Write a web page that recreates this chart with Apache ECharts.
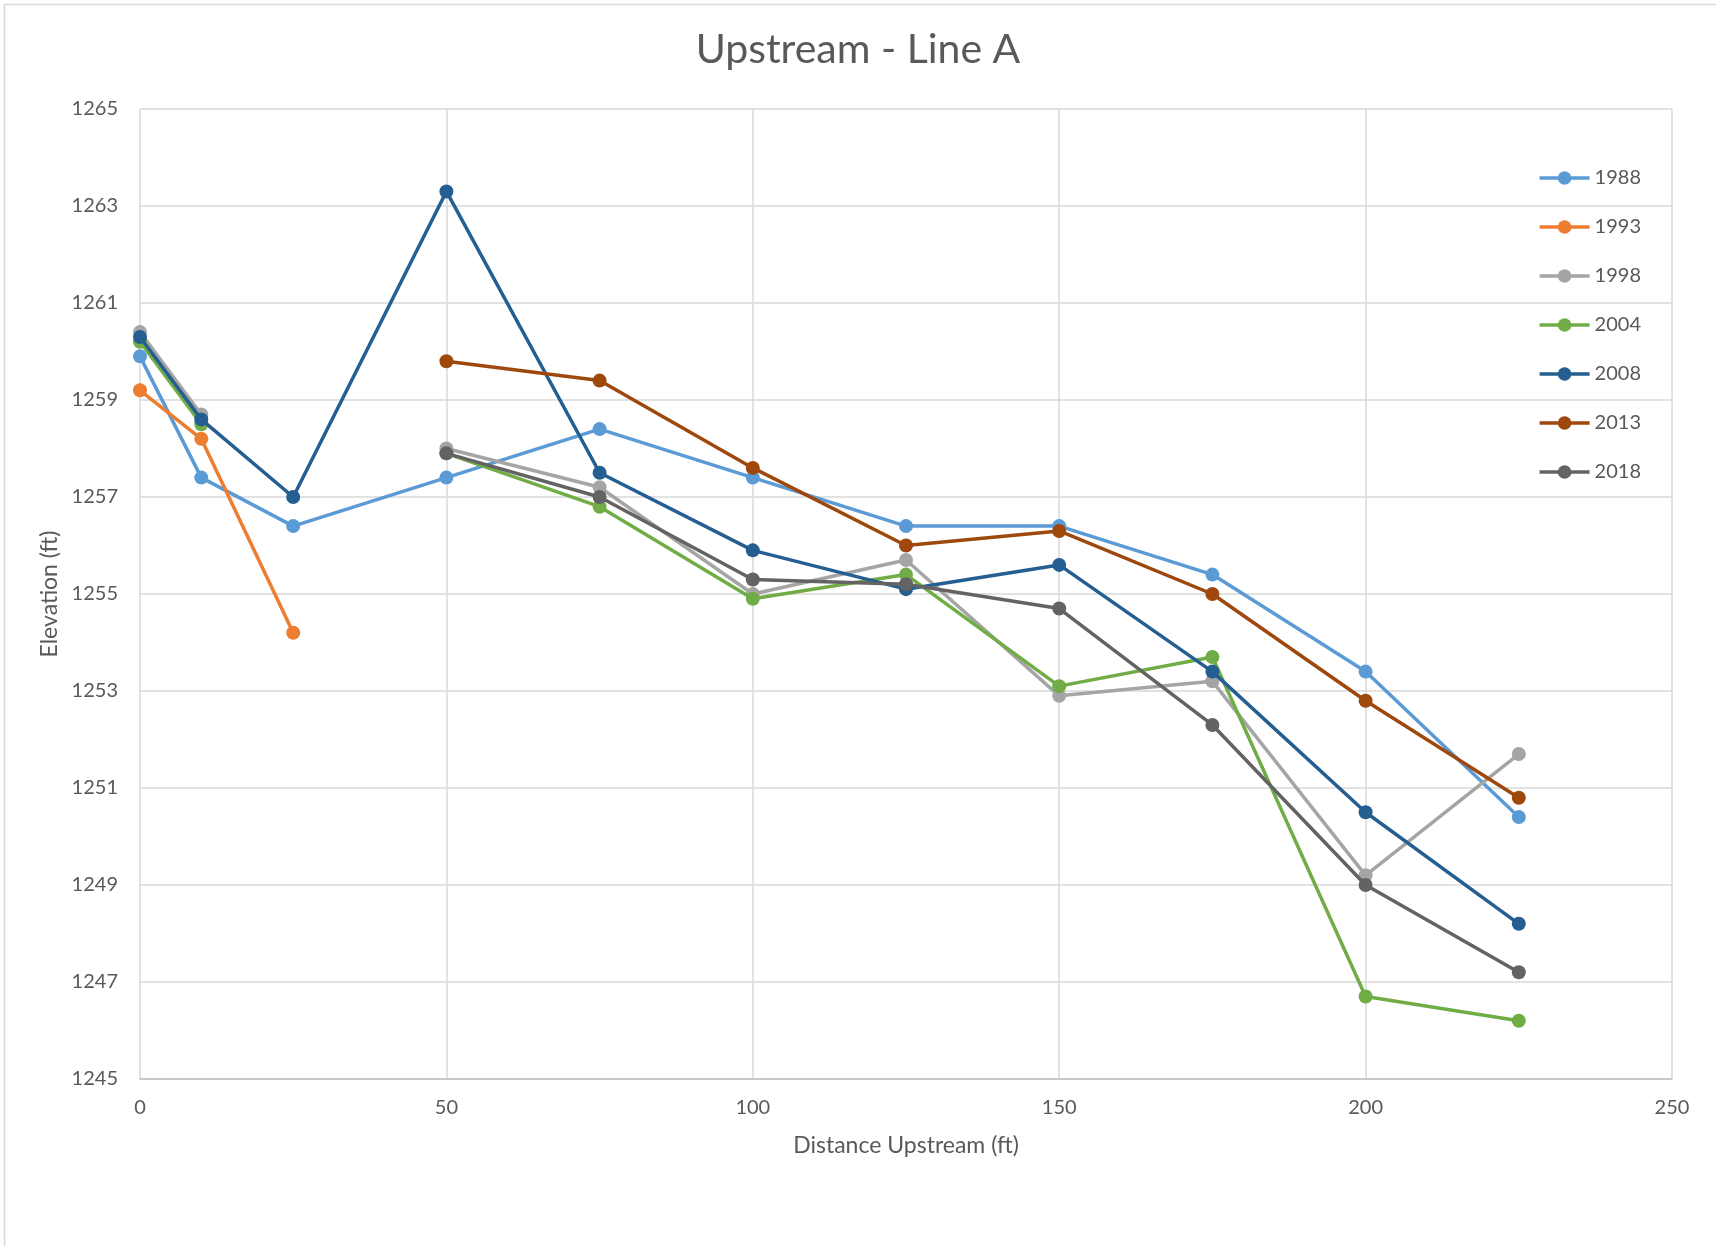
<!DOCTYPE html>
<html>
<head>
<meta charset="utf-8">
<script src="https://cdn.jsdelivr.net/npm/echarts@6/dist/echarts.min.js"></script>
<style>
html,body{margin:0;padding:0;background:#fff;}
#chart{width:1716px;height:1246px;}
</style>
</head>
<body>
<div id="chart"></div>
<script>
const distances = [0, 10, 25, 50, 75, 100, 125, 150, 175, 200, 225];
const years = ['1988', '1993', '1998', '2004', '2008', '2013', '2018'];
const elev1988 = [1259.9, 1257.4, 1256.4, 1257.4, 1258.4, 1257.4, 1256.4, 1256.4, 1255.4, 1253.4, 1250.4];
const elev1993 = [1259.2, 1258.2, 1254.2, null, null, null, null, null, null, null, null];
const elev1998 = [1260.4, 1258.7, null, 1258.0, 1257.2, 1255.0, 1255.7, 1252.9, 1253.2, 1249.2, 1251.7];
const elev2004 = [1260.2, 1258.5, null, 1257.9, 1256.8, 1254.9, 1255.4, 1253.1, 1253.7, 1246.7, 1246.2];
const elev2008 = [1260.3, 1258.6, 1257.0, 1263.3, 1257.5, 1255.9, 1255.1, 1255.6, 1253.4, 1250.5, 1248.2];
const elev2013 = [null, null, null, 1259.8, 1259.4, 1257.6, 1256.0, 1256.3, 1255.0, 1252.8, 1250.8];
const elev2018 = [null, null, null, 1257.9, 1257.0, 1255.3, 1255.2, 1254.7, 1252.3, 1249.0, 1247.2];
const colors = ['#5B9BD5', '#ED7D31', '#A5A5A5', '#70AD47', '#255E91', '#9E480E', '#636363'];
const seriesValues = [elev1988, elev1993, elev1998, elev2004, elev2008, elev2013, elev2018];

const FONT = 'Lato, "Open Sans", sans-serif';
const chart = echarts.init(document.getElementById('chart'), null, {renderer: 'canvas'});

const series = years.map((y, i) => ({
  name: y,
  type: 'line',
  data: distances.map((d, j) => [d, seriesValues[i][j]]),
  connectNulls: false,
  symbol: 'circle',
  symbolSize: 14,
  lineStyle: {width: 3.5, color: colors[i]},
  itemStyle: {color: colors[i]},
  emphasis: {disabled: true},
  z: 2 + i
}));

chart.setOption({
  animation: false,
  backgroundColor: '#fff',
  graphic: [{
    type: 'rect',
    shape: {x: 4.5, y: 4.5, width: 1760, height: 1300},
    style: {fill: 'none', stroke: '#d9d9d9', lineWidth: 1.5},
    silent: true
  }],
  title: {
    text: 'Upstream - Line A',
    left: 'center',
    top: 24,
    textStyle: {fontFamily: FONT, fontSize: 41, fontWeight: 'normal', color: '#595959'}
  },
  legend: {
    orient: 'vertical',
    right: 70,
    top: 163,
    itemGap: 29,
    itemWidth: 50,
    itemHeight: 17,
    lineStyle: {width: 3.5},
    data: years,
    textStyle: {fontFamily: FONT, fontSize: 20, color: '#595959'}
  },
  grid: {left: 140, right: 44, top: 109, bottom: 167, containLabel: false},
  xAxis: {
    type: 'value',
    min: 0, max: 250, interval: 50,
    name: 'Distance Upstream (ft)',
    nameLocation: 'middle',
    nameGap: 55,
    nameTextStyle: {fontFamily: FONT, fontSize: 23, color: '#595959'},
    axisLine: {show: true, lineStyle: {color: '#bfbfbf', width: 1.5}},
    axisTick: {show: false},
    axisLabel: {fontFamily: FONT, fontSize: 20, color: '#595959', margin: 19},
    splitLine: {show: true, lineStyle: {color: '#d9d9d9', width: 1.5}}
  },
  yAxis: {
    type: 'value',
    min: 1245, max: 1265, interval: 2,
    name: 'Elevation (ft)',
    nameLocation: 'middle',
    nameGap: 77,
    nameTextStyle: {fontFamily: FONT, fontSize: 23, color: '#595959'},
    axisLine: {show: false},
    axisTick: {show: false},
    axisLabel: {fontFamily: FONT, fontSize: 20, color: '#595959', margin: 22, formatter: v => String(v)},
    splitLine: {show: true, lineStyle: {color: '#d9d9d9', width: 1.5}}
  },
  series: series
});
</script>
</body>
</html>
